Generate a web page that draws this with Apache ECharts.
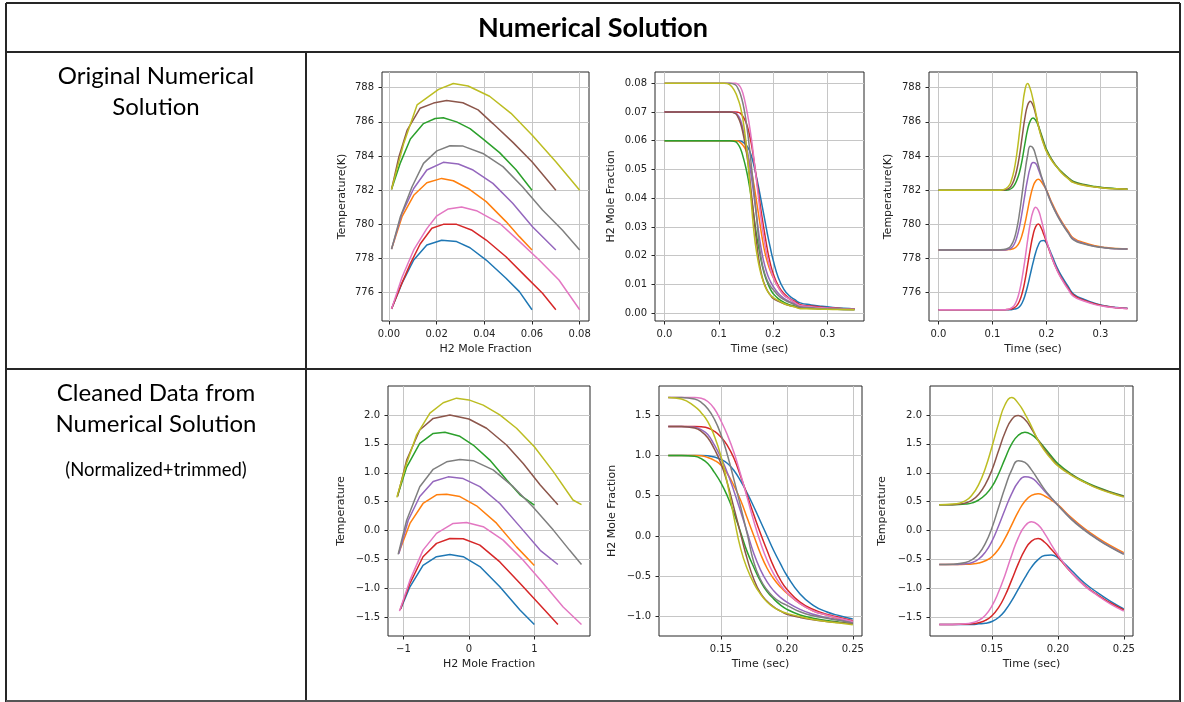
<!DOCTYPE html>
<html><head><meta charset="utf-8">
<script src="https://cdn.jsdelivr.net/npm/echarts@6/dist/echarts.min.js"></script>
<style>html,body{margin:0;padding:0;background:#fff;}#c{width:1184px;height:702px;}</style>
</head><body><div id="c"></div>
<script>
// Series order: blue, orange, green, red, purple, brown, pink, gray, olive
const colors = ['#1f77b4','#ff7f0e','#2ca02c','#d62728','#9467bd','#8c564b','#e377c2','#7f7f7f','#bcbd22'];

// ---- Plot 1: Temperature(K) vs H2 mole fraction (original)
const p1X = [
 [0.0011,0.0055,0.0104,0.0159,0.0221,0.0284,0.034,0.0408,0.0491,0.0547,0.06],
 [0.0011,0.0055,0.0104,0.0159,0.0221,0.027,0.0332,0.0408,0.0491,0.0547,0.06],
 [0.0011,0.0048,0.009,0.0145,0.0194,0.0228,0.0284,0.034,0.0394,0.0464,0.0533,0.06],
 [0.0011,0.0048,0.009,0.0131,0.018,0.0228,0.0284,0.0346,0.0408,0.0491,0.0574,0.0644,0.07],
 [0.0011,0.0055,0.0104,0.0159,0.0228,0.0291,0.0353,0.0436,0.0519,0.0602,0.07],
 [0.0011,0.0042,0.0076,0.0131,0.0187,0.0242,0.031,0.0374,0.0436,0.052,0.06,0.07],
 [0.0011,0.0055,0.0104,0.0159,0.0201,0.0249,0.0305,0.0367,0.0464,0.0547,0.063,0.0713,0.08],
 [0.0011,0.0048,0.0097,0.0145,0.0201,0.0256,0.0311,0.0394,0.0478,0.056,0.0644,0.0727,0.08],
 [0.0011,0.0062,0.0118,0.0208,0.027,0.0332,0.0422,0.0512,0.0602,0.07,0.08]
];
const p1Y = [
 [775.05,776.55,777.91,778.79,779.07,778.99,778.63,777.91,776.84,776.06,775.0],
 [778.55,780.45,781.7,782.44,782.69,782.55,782.1,781.33,780.16,779.28,778.5],
 [782.05,783.6,785.0,785.9,786.2,786.24,786.0,785.6,785.0,784.2,783.2,782.0],
 [775.05,776.35,777.7,778.85,779.77,780.0,780.0,779.67,779.08,778.1,776.94,775.96,775.0],
 [778.55,780.64,782.1,783.18,783.63,783.53,783.18,782.4,781.23,779.86,778.5],
 [782.05,783.96,785.5,786.8,787.1,787.25,787.12,786.7,785.9,784.8,783.67,782.0],
 [775.05,776.9,778.5,779.75,780.5,780.9,781.02,780.8,780.06,779.0,777.91,776.74,775.0],
 [778.55,780.45,782.2,783.57,784.3,784.6,784.58,784.15,783.38,782.2,780.84,779.67,778.5],
 [782.05,784.74,786.99,787.9,788.25,788.1,787.5,786.5,785.2,783.67,782.0]
];

// ---- Plots 2 & 3: time (sec), original units
const tTop = [0,0.05,0.1,0.11,0.12,0.13,0.135,0.14,0.145,0.15,0.155,0.16,0.165,0.17,0.175,0.18,0.185,0.19,0.195,0.2,0.21,0.22,0.23,0.24,0.25,0.27,0.29,0.31,0.33,0.35];
const p2Y = [
 [.06,.06,.06,.06,.06,.06,.06,.0599,.0594,.0586,.0572,.0547,.0511,.0469,.0422,.0372,.0322,.0272,.0227,.0186,.0122,.0083,.0061,.0047,.0036,.0029,.0024,.0020,.0017,.0015],
 [.06,.06,.06,.06,.06,.06,.0599,.0593,.0583,.0567,.0536,.0494,.0444,.0383,.0322,.0261,.0211,.0175,.0147,.0125,.0089,.0063,.0050,.0036,.0025,.0021,.0018,.0016,.0015,.0014],
 [.06,.06,.06,.06,.06,.0597,.0589,.0572,.0542,.0505,.0458,.0400,.0333,.0266,.0214,.0166,.0130,.0105,.0084,.0069,.0050,.0038,.0030,.0025,.0019,.0017,.0015,.0014,.0013,.0013],
 [.07,.07,.07,.07,.07,.07,.0699,.0695,.0683,.0664,.0633,.0589,.0528,.0461,.0394,.0330,.0272,.0216,.0172,.0139,.0094,.0069,.0052,.0041,.0030,.0025,.0021,.0018,.0016,.0015],
 [.07,.07,.07,.07,.07,.0697,.0689,.0672,.0636,.0592,.0539,.0475,.0405,.0333,.0261,.0205,.0164,.0133,.0111,.0094,.0069,.0052,.0041,.0033,.0025,.0021,.0018,.0016,.0015,.0014],
 [.07,.07,.07,.07,.07,.0695,.0683,.0661,.0622,.0572,.0503,.0417,.0328,.0241,.0172,.0125,.0097,.0077,.0063,.0052,.0041,.0033,.0027,.0023,.0019,.0017,.0015,.0014,.0013,.0013],
 [.08,.08,.08,.08,.08,.08,.0797,.0786,.0761,.0720,.0670,.0608,.0533,.0453,.0372,.0300,.0239,.0191,.0155,.0127,.0089,.0063,.0050,.0038,.0027,.0023,.0019,.0017,.0015,.0014],
 [.08,.08,.08,.08,.08,.0795,.0783,.0761,.0725,.0672,.0600,.0514,.0422,.0328,.0230,.0172,.0136,.0111,.0094,.0083,.0061,.0047,.0038,.0030,.0022,.0019,.0016,.0015,.0014,.0013],
 [.08,.08,.08,.08,.0795,.0770,.0747,.0717,.0667,.0597,.0500,.0383,.0278,.0208,.0158,.0122,.0094,.0076,.0063,.0055,.0044,.0034,.0027,.0022,.0016,.0015,.0014,.0013,.0013,.0012]
];
const p3Y = [
 [775,775,775,775,775,775,775,775.04,775.07,775.17,775.41,775.82,776.39,777.07,777.74,778.35,778.79,779.03,779.06,778.89,778.18,777.44,776.86,776.36,775.92,775.6,775.37,775.22,775.13,775.08],
 [778.5,778.5,778.5,778.5,778.5,778.52,778.54,778.59,778.72,778.96,779.4,780.04,780.82,781.6,782.2,782.54,782.64,782.51,782.27,782.0,781.26,780.62,780.07,779.6,779.2,778.92,778.74,778.64,778.58,778.55],
 [782,782,782,782,782,782.03,782.1,782.27,782.58,783.05,783.79,784.71,785.55,786.06,786.23,786.09,785.75,785.31,784.84,784.4,783.79,783.35,783.02,782.74,782.51,782.33,782.21,782.14,782.09,782.07],
 [775,775,775,775,775,775.02,775.04,775.11,775.24,775.51,775.98,776.69,777.61,778.55,779.36,779.87,780.02,779.8,779.4,778.96,778.05,777.3,776.73,776.26,775.85,775.55,775.33,775.2,775.12,775.07],
 [778.5,778.5,778.5,778.5,778.5,778.55,778.62,778.82,779.23,779.87,780.75,781.73,782.64,783.32,783.62,783.56,783.22,782.78,782.37,781.97,781.19,780.55,780.01,779.53,779.13,778.87,778.71,778.62,778.57,778.55],
 [782,782,782,782,782,782.1,782.27,782.61,783.18,784.03,785.14,786.23,786.97,787.21,786.97,786.43,785.79,785.21,784.74,784.3,783.76,783.32,782.98,782.71,782.47,782.3,782.19,782.12,782.08,782.06],
 [775,775,775,775,775,775.04,775.11,775.24,775.55,776.09,776.9,777.91,779.06,780.07,780.75,781.0,780.82,780.31,779.67,779.06,778.05,777.27,776.69,776.19,775.78,775.5,775.3,775.18,775.11,775.06],
 [778.5,778.5,778.5,778.5,778.52,778.62,778.79,779.13,779.74,780.65,781.83,783.02,784.03,784.57,784.47,784.03,783.45,782.88,782.41,781.97,781.16,780.51,779.97,779.5,779.09,778.85,778.7,778.62,778.57,778.55],
 [782,782,782,782,782.03,782.24,782.58,783.18,784.13,785.38,786.73,787.85,788.25,787.92,787.31,786.56,785.75,785.14,784.67,784.27,783.72,783.32,782.95,782.68,782.44,782.28,782.18,782.12,782.08,782.06]
];

// ---- Plot 4: normalized Temperature vs normalized H2 (trimmed)
const p4X = [
 [-1.04,-0.9,-0.7,-0.494,-0.29,-0.087,0.168,0.473,0.78,1.0],
 [-1.07,-0.9,-0.7,-0.494,-0.34,-0.137,0.117,0.422,0.728,1.0],
 [-1.09,-0.95,-0.75,-0.545,-0.366,-0.137,0.066,0.32,0.575,0.78,1.0],
 [-1.05,-0.9,-0.7,-0.494,-0.29,-0.087,0.168,0.473,0.78,1.09,1.36],
 [-1.07,-0.926,-0.75,-0.545,-0.316,-0.087,0.168,0.473,0.78,1.09,1.36],
 [-1.09,-0.95,-0.75,-0.545,-0.29,0,0.27,0.575,0.83,1.09,1.36],
 [-1.06,-0.9,-0.7,-0.494,-0.24,-0.036,0.219,0.524,0.83,1.135,1.44,1.72],
 [-1.08,-0.95,-0.75,-0.545,-0.34,-0.137,0.066,0.37,0.677,0.98,1.29,1.54,1.72],
 [-1.1,-0.952,-0.8,-0.595,-0.392,-0.188,0,0.219,0.473,0.728,1.0,1.29,1.59,1.72]
];
const p4Y = [
 [-1.35,-0.97,-0.6,-0.45,-0.41,-0.45,-0.62,-0.97,-1.37,-1.62],
 [-0.38,0.125,0.47,0.62,0.63,0.59,0.43,0.13,-0.28,-0.6],
 [0.6,1.1,1.51,1.68,1.7,1.63,1.48,1.22,0.88,0.62,0.44],
 [-1.37,-0.91,-0.45,-0.22,-0.134,-0.14,-0.25,-0.54,-0.91,-1.29,-1.62],
 [-0.4,0.18,0.59,0.85,0.93,0.9,0.76,0.47,0.07,-0.34,-0.585],
 [0.59,1.22,1.74,1.94,2.0,1.93,1.77,1.48,1.16,0.79,0.45],
 [-1.39,-0.855,-0.336,-0.047,0.126,0.143,0.068,-0.163,-0.51,-0.91,-1.32,-1.62],
 [-0.41,0.18,0.76,1.06,1.19,1.23,1.21,1.05,0.76,0.41,0.01,-0.34,-0.585],
 [0.575,1.16,1.65,2.03,2.21,2.29,2.26,2.17,2.0,1.77,1.45,1.02,0.53,0.45]
];

// ---- Plots 5 & 6: trimmed time, normalized values
const tBot = [0.11,0.12,0.13,0.135,0.14,0.145,0.15,0.155,0.16,0.165,0.17,0.175,0.18,0.185,0.19,0.195,0.2,0.21,0.22,0.23,0.24,0.25];
const p5Y = [
 [1.0,1.0,1.0,1.0,0.995,0.98,0.95,0.9,0.81,0.68,0.53,0.36,0.18,0.0,-0.18,-0.34,-0.49,-0.72,-0.86,-0.94,-0.99,-1.03],
 [1.0,1.0,1.0,0.995,0.975,0.94,0.88,0.77,0.62,0.44,0.22,0.0,-0.22,-0.4,-0.53,-0.63,-0.71,-0.84,-0.93,-0.98,-1.03,-1.07],
 [1.0,1.0,0.99,0.96,0.9,0.79,0.66,0.49,0.28,0.04,-0.2,-0.39,-0.56,-0.69,-0.78,-0.855,-0.91,-0.98,-1.02,-1.05,-1.07,-1.09],
 [1.36,1.36,1.36,1.355,1.34,1.3,1.23,1.12,0.96,0.74,0.5,0.26,0.03,-0.18,-0.38,-0.54,-0.66,-0.82,-0.91,-0.97,-1.01,-1.05],
 [1.36,1.36,1.35,1.32,1.26,1.13,0.97,0.78,0.55,0.3,0.04,-0.22,-0.42,-0.57,-0.68,-0.76,-0.82,-0.91,-0.97,-1.01,-1.04,-1.07],
 [1.36,1.36,1.34,1.3,1.22,1.08,0.9,0.65,0.34,0.02,-0.29,-0.54,-0.71,-0.81,-0.88,-0.93,-0.97,-1.01,-1.04,-1.06,-1.075,-1.09],
 [1.72,1.72,1.72,1.71,1.67,1.58,1.43,1.25,1.03,0.76,0.47,0.18,-0.08,-0.3,-0.47,-0.6,-0.7,-0.84,-0.93,-0.98,-1.02,-1.06],
 [1.72,1.72,1.7,1.66,1.58,1.45,1.26,1.0,0.69,0.36,0.02,-0.33,-0.54,-0.67,-0.76,-0.82,-0.86,-0.94,-0.99,-1.02,-1.05,-1.08],
 [1.72,1.7,1.61,1.53,1.42,1.24,0.99,0.64,0.22,-0.16,-0.41,-0.59,-0.72,-0.82,-0.885,-0.93,-0.96,-1.0,-1.035,-1.06,-1.08,-1.1]
];
const p6Y = [
 [-1.62,-1.62,-1.62,-1.62,-1.61,-1.6,-1.57,-1.5,-1.38,-1.21,-1.01,-0.81,-0.63,-0.5,-0.43,-0.42,-0.47,-0.68,-0.9,-1.07,-1.22,-1.35],
 [-0.585,-0.585,-0.58,-0.575,-0.56,-0.52,-0.45,-0.32,-0.13,0.1,0.33,0.51,0.61,0.64,0.6,0.53,0.45,0.23,0.04,-0.12,-0.26,-0.38],
 [0.45,0.45,0.46,0.48,0.53,0.62,0.76,0.98,1.25,1.5,1.65,1.7,1.66,1.56,1.43,1.29,1.16,0.98,0.85,0.75,0.67,0.6],
 [-1.62,-1.62,-1.615,-1.61,-1.59,-1.55,-1.47,-1.33,-1.12,-0.85,-0.57,-0.33,-0.18,-0.135,-0.2,-0.32,-0.45,-0.72,-0.94,-1.11,-1.25,-1.37],
 [-0.585,-0.585,-0.57,-0.55,-0.49,-0.37,-0.18,0.08,0.37,0.64,0.84,0.93,0.91,0.81,0.68,0.56,0.44,0.21,0.02,-0.14,-0.28,-0.4],
 [0.45,0.45,0.48,0.53,0.63,0.8,1.05,1.38,1.7,1.92,1.99,1.92,1.76,1.57,1.4,1.26,1.13,0.97,0.84,0.74,0.66,0.59],
 [-1.62,-1.62,-1.61,-1.59,-1.55,-1.46,-1.3,-1.06,-0.76,-0.42,-0.12,0.08,0.155,0.1,-0.05,-0.24,-0.42,-0.72,-0.95,-1.12,-1.27,-1.39],
 [-0.585,-0.58,-0.55,-0.5,-0.4,-0.22,0.05,0.4,0.75,1.05,1.21,1.18,1.05,0.88,0.71,0.57,0.44,0.2,0.01,-0.15,-0.29,-0.41],
 [0.45,0.46,0.52,0.62,0.8,1.08,1.45,1.85,2.18,2.3,2.2,2.02,1.8,1.56,1.38,1.24,1.12,0.96,0.84,0.73,0.65,0.58]
];

// ---- Tick values
const p1XTicks = [0,0.02,0.04,0.06,0.08];
const tempTicks = [776,778,780,782,784,786,788];
const timeTicksTop = [0,0.1,0.2,0.3];
const h2TicksTop = [0,0.01,0.02,0.03,0.04,0.05,0.06,0.07,0.08];
const p4XTicks = [-1,0,1];
const normTempTicks = [-1.5,-1,-0.5,0,0.5,1,1.5,2];
const timeTicksBot = [0.15,0.2,0.25];
const normH2Ticks = [-1,-0.5,0,0.5,1,1.5];

const zip = (xs, ys) => xs.map((x, i) => [x, ys[i]]);
const fmt = d => v => v.toFixed(d).replace('-', '\u2212');

const panels = [
  {g:[382,72,207,249], xr:[-0.0029,0.0839], xt:p1XTicks, xd:2, xn:'H2 Mole Fraction', yr:[774.34,788.92], yt:tempTicks, yd:0, yn:'Temperature(K)', yg:34,
   data: p1Y.map((ys,i)=>zip(p1X[i],ys)), smooth:false},
  {g:[655,72,209,249], xr:[-0.0175,0.3675], xt:timeTicksTop, xd:1, xn:'Time (sec)', yr:[-0.0027,0.0839], yt:h2TicksTop, yd:2, yn:'H2 Mole Fraction', yg:38,
   data: p2Y.map(ys=>zip(tTop,ys)), smooth:true},
  {g:[929,72,208,249], xr:[-0.0175,0.3675], xt:timeTicksTop, xd:1, xn:'Time (sec)', yr:[774.34,788.92], yt:tempTicks, yd:0, yn:'Temperature(K)', yg:35,
   data: p3Y.map(ys=>zip(tTop,ys)), smooth:true},
  {g:[388,386,202,250], xr:[-1.235,1.85], xt:p4XTicks, xd:0, xn:'H2 Mole Fraction', yr:[-1.82,2.5], yt:normTempTicks, yd:1, yn:'Temperature', yg:41,
   data: p4Y.map((ys,i)=>zip(p4X[i],ys)), smooth:false},
  {g:[659,386,203,250], xr:[0.103,0.257], xt:timeTicksBot, xd:2, xn:'Time (sec)', yr:[-1.241,1.862], yt:normH2Ticks, yd:1, yn:'H2 Mole Fraction', yg:41,
   data: p5Y.map(ys=>zip(tBot,ys)), smooth:true},
  {g:[930,386,203,250], xr:[0.103,0.257], xt:timeTicksBot, xd:2, xn:'Time (sec)', yr:[-1.82,2.5], yt:normTempTicks, yd:1, yn:'Temperature', yg:42,
   data: p6Y.map(ys=>zip(tBot,ys)), smooth:true}
];

const FONT = 'DejaVu Sans';
const grid = [], xAxis = [], yAxis = [], series = [];
panels.forEach((p, k) => {
  grid.push({left:p.g[0], top:p.g[1], width:p.g[2], height:p.g[3], show:true, borderColor:'#262626', borderWidth:1, backgroundColor:'rgba(0,0,0,0)'});
  const common = {
    gridIndex:k, type:'value', nameLocation:'middle',
    nameTextStyle:{fontFamily:FONT, fontSize:11, color:'#222'},
    axisLine:{show:false, onZero:false},
    axisTick:{show:true, length:3.5, lineStyle:{color:'#262626', width:1}},
    splitLine:{show:true, lineStyle:{color:'#c6c6c6', width:1}}
  };
  xAxis.push(Object.assign({}, common, {
    min:p.xr[0], max:p.xr[1], name:p.xn, nameGap:23,
    axisTick:Object.assign({}, common.axisTick, {customValues:p.xt}),
    axisLabel:{customValues:p.xt, formatter:fmt(p.xd), fontFamily:FONT, fontSize:10, color:'#222', margin:8}
  }));
  yAxis.push(Object.assign({}, common, {
    min:p.yr[0], max:p.yr[1], name:p.yn, nameGap:p.yg,
    axisTick:Object.assign({}, common.axisTick, {customValues:p.yt}),
    axisLabel:{customValues:p.yt, formatter:fmt(p.yd), fontFamily:FONT, fontSize:10, color:'#222', margin:8}
  }));
  p.data.forEach((d, i) => {
    series.push({type:'line', xAxisIndex:k, yAxisIndex:k, data:d, showSymbol:false, symbol:'none',
      smooth: p.smooth ? 0.5 : false,
      lineStyle:{color:colors[i], width:1.5}, itemStyle:{color:colors[i]}, z:2+i, silent:true});
  });
});

const L = (x1,y1,x2,y2,c,w) => ({type:'line', shape:{x1,y1,x2,y2}, style:{stroke:c||'#262626', lineWidth:w||2}, silent:true});
const T = (txt,x,y,font) => ({type:'text', style:{text:txt, x, y, font, fill:'#000', textAlign:'center', textVerticalAlign:'middle', align:'center', verticalAlign:'middle'}, silent:true});

const graphic = [
  L(6,3,1180,3), L(6,52,1180,52), L(6,3,6,702), L(1180,3,1180,702),
  L(306,52,306,702), L(6,369,1180,369), L(6,701,1180,701,'#555',2),
  T('Numerical Solution', 593, 28, 'bold 27px Lato'),
  T('Original Numerical', 156, 76, '24px Lato'),
  T('Solution', 156, 107, '24px Lato'),
  T('Cleaned Data from', 156, 393, '24px Lato'),
  T('Numerical Solution', 156, 424, '24px Lato'),
  T('(Normalized+trimmed)', 156, 470, '18.5px Lato')
];

const chart = echarts.init(document.getElementById('c'), null, {renderer:'canvas'});
chart.setOption({animation:false, backgroundColor:'#fff', grid, xAxis, yAxis, series, graphic});
</script></body></html>
